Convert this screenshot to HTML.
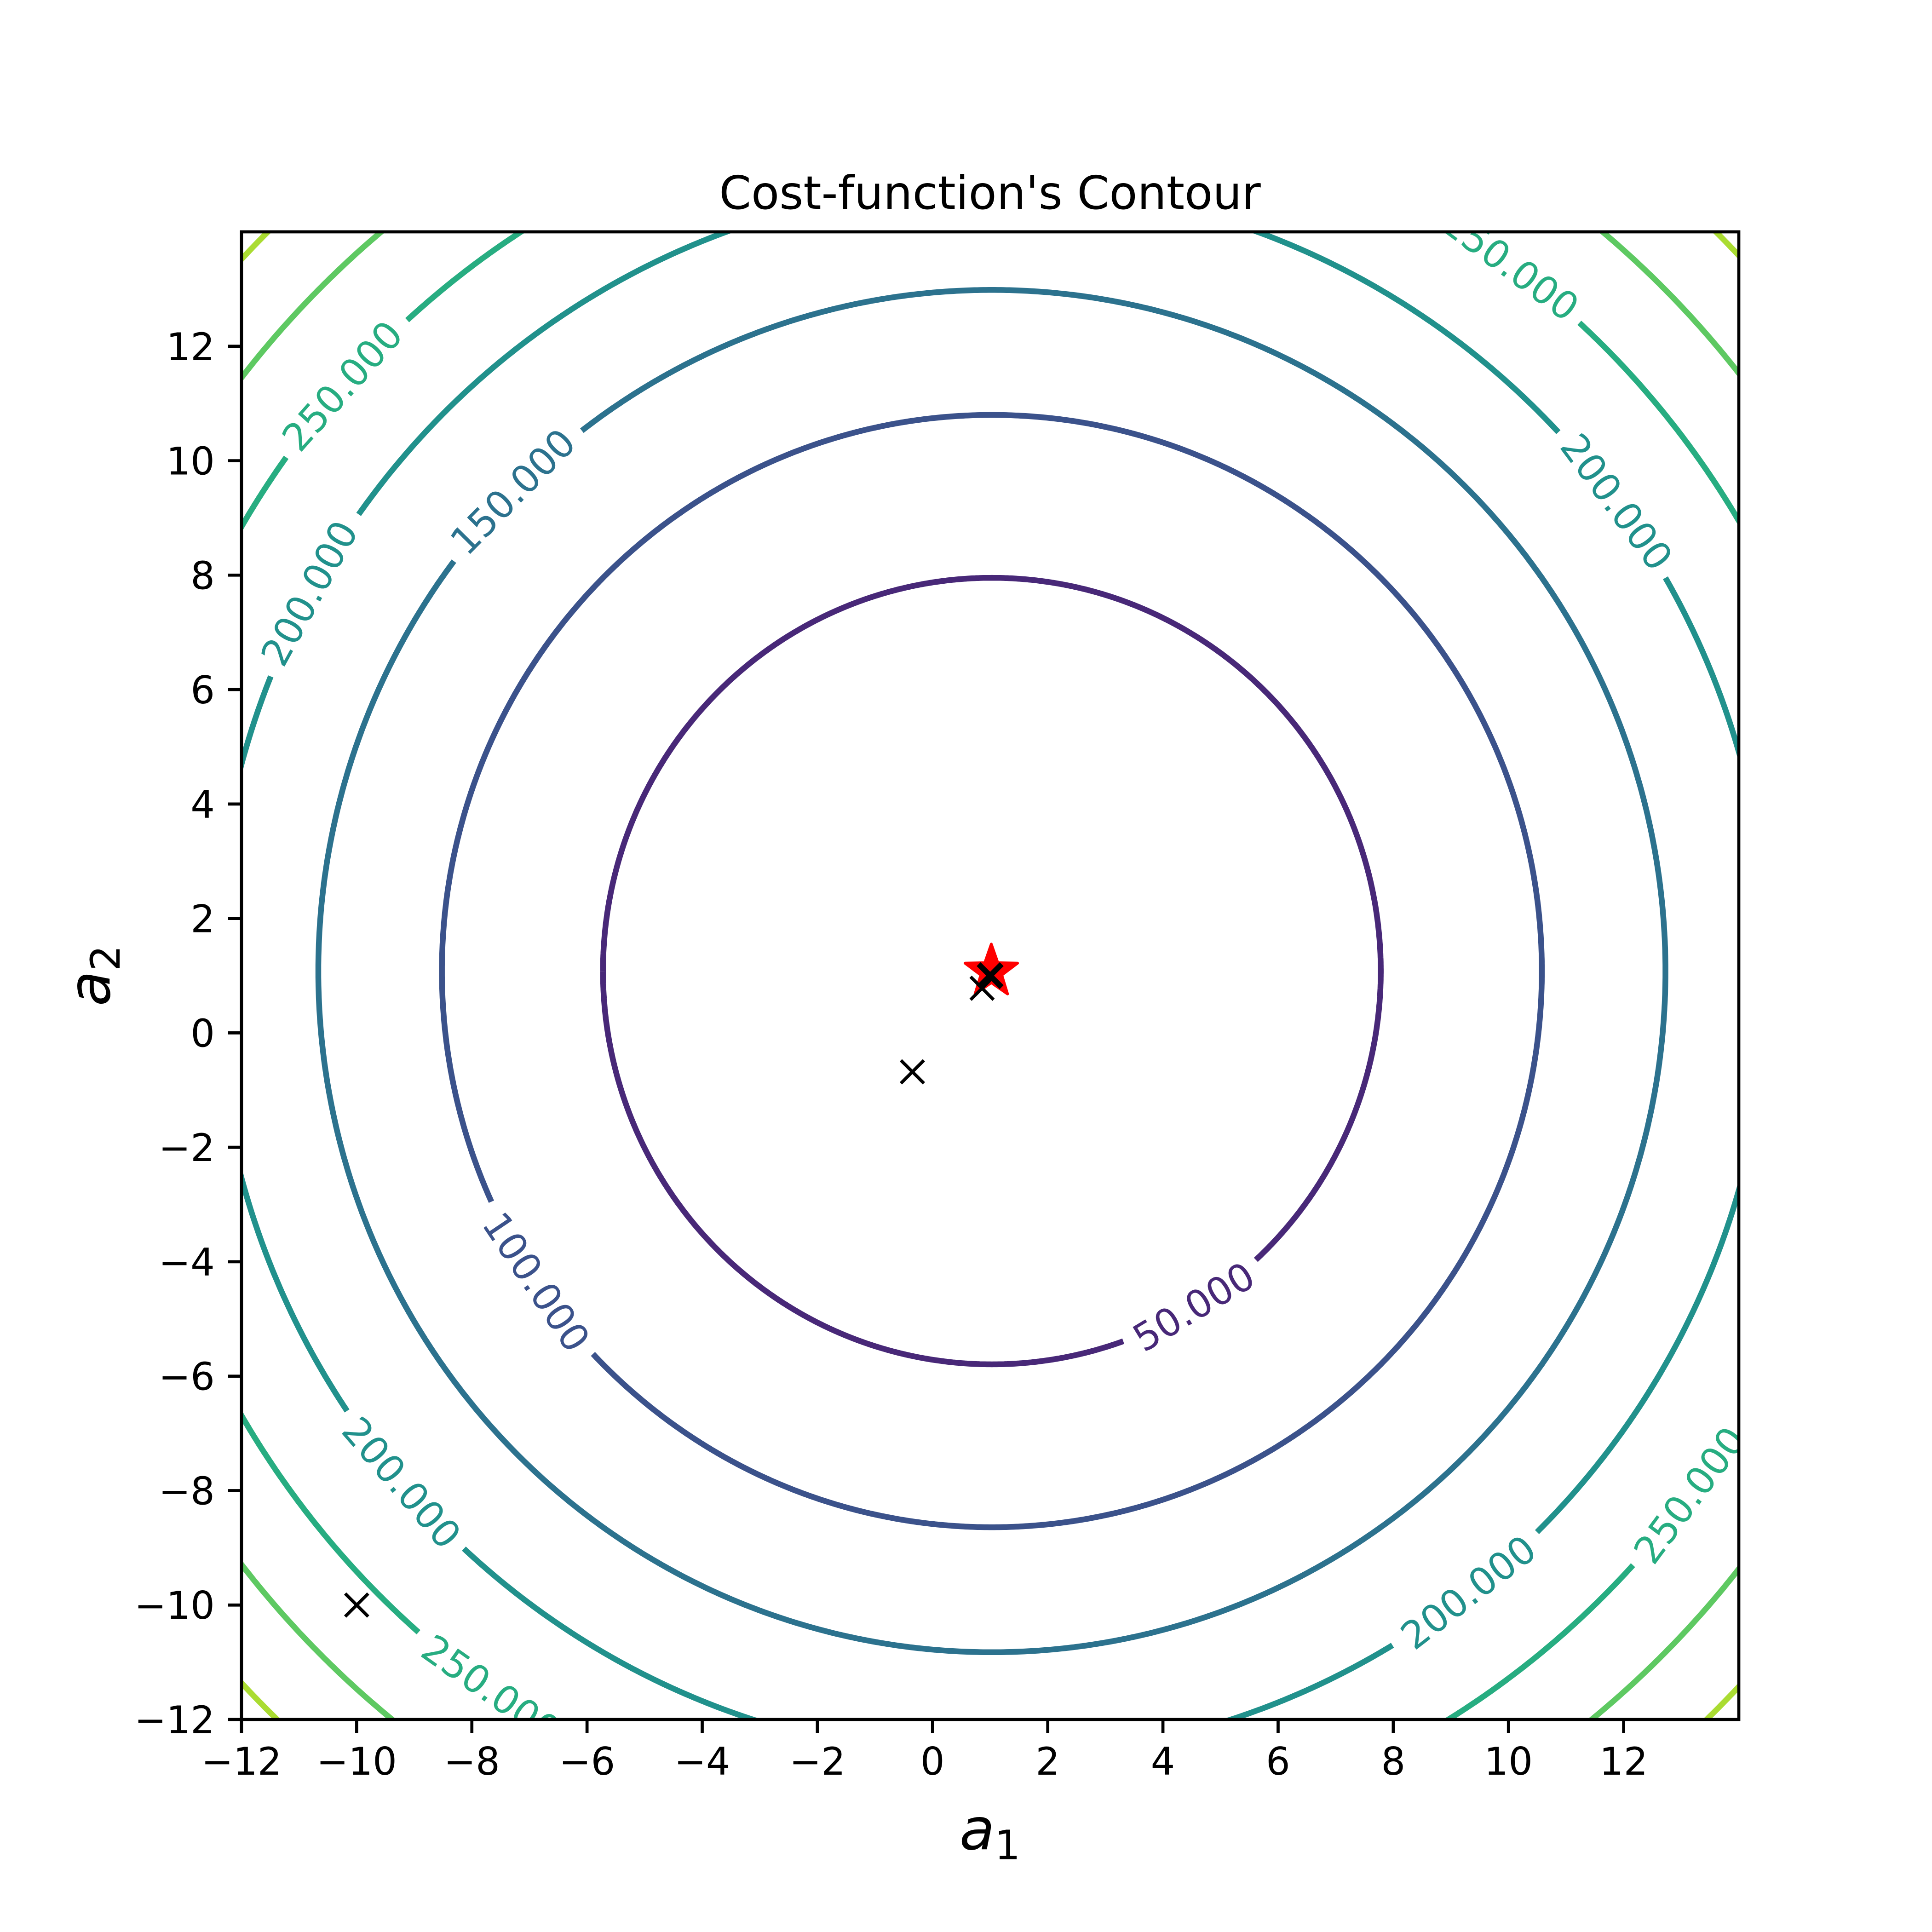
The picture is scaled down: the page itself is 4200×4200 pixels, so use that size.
<!DOCTYPE html>
<html><head><meta charset="utf-8"><style>
html,body{margin:0;padding:0;background:#fff;}
svg{display:block;}
text{font-family:"DejaVu Sans","Liberation Sans",sans-serif;}
</style></head>
<body>
<svg id="chart" width="4200" height="4200" viewBox="0 0 4200 4200" xmlns="http://www.w3.org/2000/svg">
<rect width="4200" height="4200" fill="#fff"/>
<defs><clipPath id="axclip"><rect x="525" y="504" width="3255" height="3234"/></clipPath></defs>
<g id="plot" clip-path="url(#axclip)"></g>
<g id="axes"></g>
<text x="2152" y="454" font-size="100" text-anchor="middle">Cost-function's Contour</text>
<text x="2152" y="4020" font-size="125" text-anchor="middle" font-style="italic">a<tspan font-size="88" font-style="normal" dy="22">1</tspan></text>
<text x="0" y="0" font-size="125" text-anchor="middle" font-style="italic" transform="translate(238,2121) rotate(-90)">a<tspan font-size="88" font-style="normal" dy="22">2</tspan></text>
</svg>
<script>
const levels = [50, 100, 150, 200, 250, 300, 350];
const levelColors = ["#482878", "#3b528b", "#2c728e", "#21918c", "#27ad81", "#5ec962", "#aadc32"];
const labelLevels = [50, 100, 150, 200, 200, 200, 200, 250, 250, 250, 250];
const labelAngles = [-58.7, -146, 135.3, 151.3, -139.4, 36.6, -52.2, 138.3, 53.4, -125.2, -36.6];
const centerX = [1.03];
const centerY = [1.08];
const pathX = [-10, -0.35, 0.86, 1.0];
const pathY = [-10, -0.68, 0.78, 1.0];
const starX = [1.02];
const starY = [1.07];
const xTicks = [-12, -10, -8, -6, -4, -2, 0, 2, 4, 6, 8, 10, 12];
const yTicks = [-12, -10, -8, -6, -4, -2, 0, 2, 4, 6, 8, 10, 12];

const NS = "http://www.w3.org/2000/svg";
const L = 525, R = 3780, T = 504, B = 3738;
const X0 = -12, X1 = 14, Y0 = -12, Y1 = 14;
const sx = v => L + (v - X0) / (X1 - X0) * (R - L);
const sy = v => B - (v - Y0) / (Y1 - Y0) * (B - T);
const radiusX = lv => 0.955 * Math.sqrt(lv);
const radiusY = lv => 0.972 * Math.sqrt(lv);
const plot = document.getElementById('plot');
const axes = document.getElementById('axes');
function mk(tag, attrs, parent) {
  const e = document.createElementNS(NS, tag);
  for (const k in attrs) e.setAttribute(k, attrs[k]);
  parent.appendChild(e);
  return e;
}
const fs = 83;
function textW(s) { let w = 0; for (const c of s) w += (c === '.' ? 0.318 : 0.636); return w * fs; }

levels.forEach((lv, i) => {
  const rx = radiusX(lv), ry = radiusY(lv);
  const rpx = rx * (R - L) / (X1 - X0);
  const gaps = [];
  labelLevels.forEach((ll, j) => {
    if (ll !== lv) return;
    const txt = ll.toFixed(3);
    const half = (textW(txt) / 2 + 22) / rpx * 180 / Math.PI;
    gaps.push([labelAngles[j] - half, labelAngles[j] + half]);
  });
  let d = '';
  let pen = false;
  for (let k = 0; k <= 1440; k++) {
    const a = -180 + k * 0.25;
    const inGap = gaps.some(g => {
      let x = a; while (x < g[0]) x += 360; while (x > g[0] + 360) x -= 360;
      return x <= g[1];
    });
    if (inGap) { pen = false; continue; }
    const rad = a * Math.PI / 180;
    const px = sx(centerX[0] + rx * Math.cos(rad)), py = sy(centerY[0] + ry * Math.sin(rad));
    d += (pen ? 'L' : 'M') + px.toFixed(1) + ' ' + py.toFixed(1);
    pen = true;
  }
  const p = mk('path', {d: d, fill: 'none', stroke: levelColors[i], 'stroke-width': 12.5}, plot);
  
  
});

labelLevels.forEach((lv, j) => {
  const rx = radiusX(lv), ry = radiusY(lv);
  const a = labelAngles[j] * Math.PI / 180;
  const px = sx(centerX[0] + rx * Math.cos(a)), py = sy(centerY[0] + ry * Math.sin(a));
  let rot = -(labelAngles[j] + 90);
  while (rot > 90) rot -= 180;
  while (rot <= -90) rot += 180;
  const ci = levels.indexOf(lv);
  const t = mk('text', {x: 0, y: 0, 'font-size': fs, fill: levelColors[ci], 'text-anchor': 'middle', 'dominant-baseline': 'central', transform: `translate(${px.toFixed(1)},${py.toFixed(1)}) rotate(${rot.toFixed(1)})`}, plot);
  t.textContent = lv.toFixed(3);
  
  
});

{
  const cx = sx(starX[0]), cy = sy(starY[0]);
  const ro = 60, ri = 24;
  let d = '';
  for (let k = 0; k < 10; k++) {
    const rr = k % 2 ? ri : ro;
    const a = -Math.PI / 2 + k * Math.PI / 5;
    d += (k ? 'L' : 'M') + (cx + rr * Math.cos(a)).toFixed(1) + ' ' + (cy + rr * Math.sin(a)).toFixed(1);
  }
  const s = mk('path', {d: d + 'Z', fill: '#ff0000', stroke: '#ff0000', 'stroke-width': 6, 'stroke-linejoin': 'round'}, plot);
  
  
}
pathX.forEach((x, i) => {
  const cx = sx(x), cy = sy(pathY[i]), h = 25;
  const sw = i === pathX.length - 1 ? 12 : 7;
  const m = mk('path', {d: `M${cx-h} ${cy-h}L${cx+h} ${cy+h}M${cx-h} ${cy+h}L${cx+h} ${cy-h}`, stroke: '#000', 'stroke-width': sw, fill: 'none'}, plot);
  
  
});

const frame = mk('rect', {x: L, y: T, width: R - L, height: B - T, fill: 'none', stroke: '#000', 'stroke-width': 6.7}, axes);


const fmt = v => (v < 0 ? '\u2212' + Math.abs(v) : '' + v);
xTicks.forEach(v => {
  const x = sx(v);
  const tk = mk('line', {x1: x, x2: x, y1: B, y2: B + 29, stroke: '#000', 'stroke-width': 6.7}, axes);
  
  
  const t = mk('text', {x: x, y: B + 29 + 29 + 62, 'font-size': fs, 'text-anchor': 'middle'}, axes);
  t.textContent = fmt(v);
  
  
});
yTicks.forEach(v => {
  const y = sy(v);
  const tk = mk('line', {x1: L - 29, x2: L, y1: y, y2: y, stroke: '#000', 'stroke-width': 6.7}, axes);
  
  
  const t = mk('text', {x: L - 29 - 29, y: y + 30, 'font-size': fs, 'text-anchor': 'end'}, axes);
  t.textContent = fmt(v);
  
  
});
</script>
</body></html>
